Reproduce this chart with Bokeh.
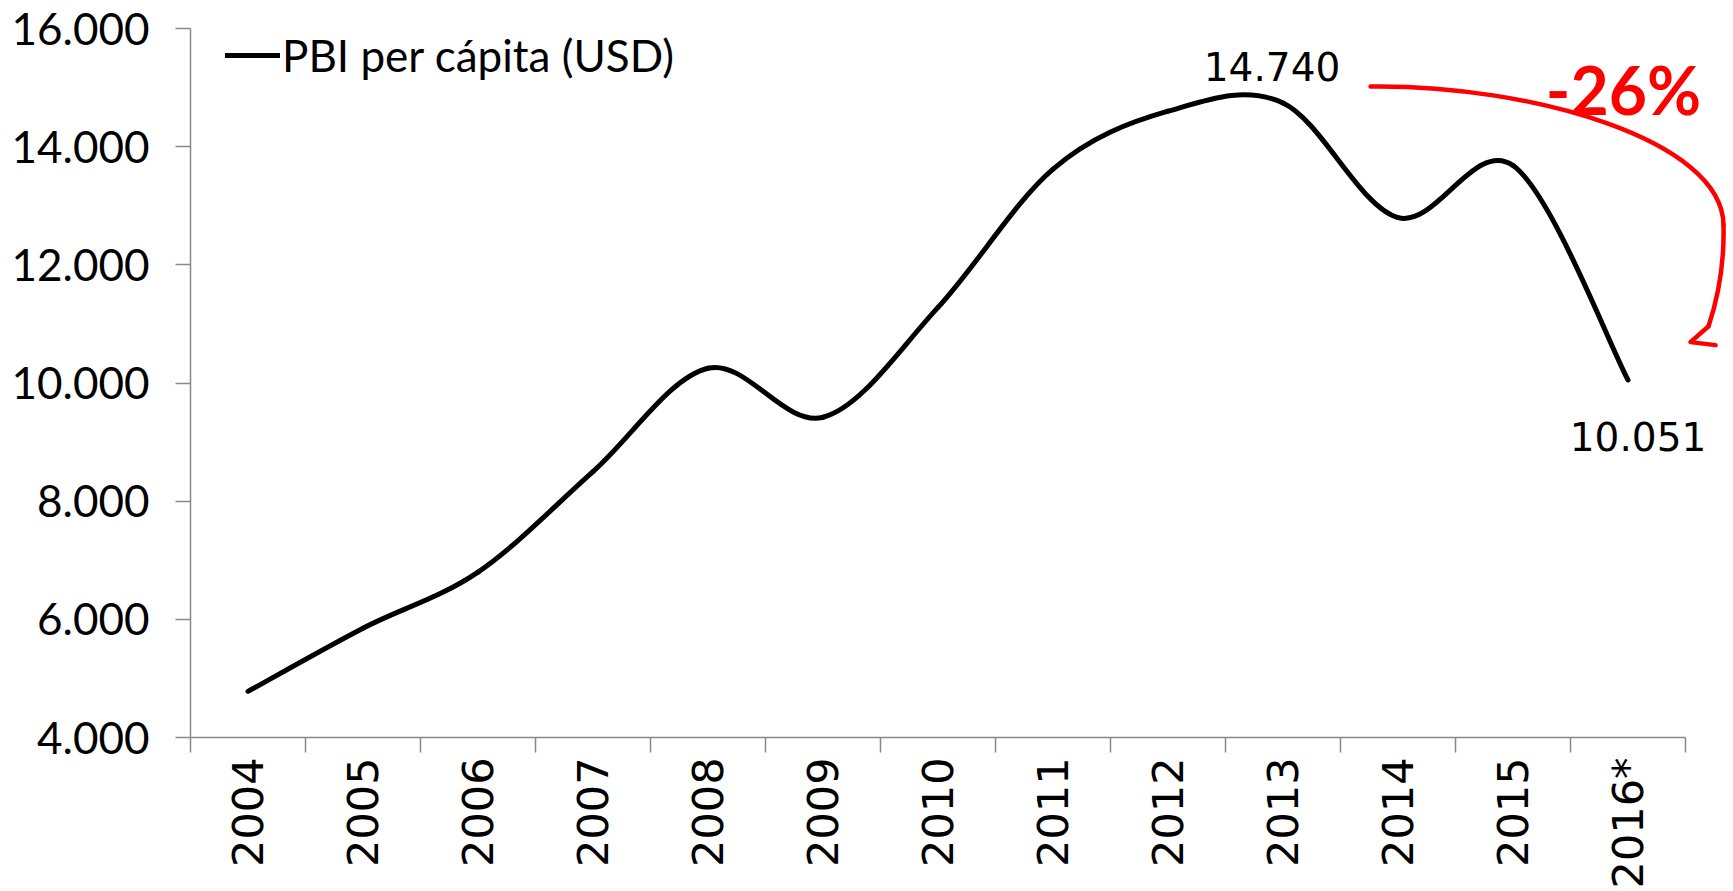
import numpy as np
from bokeh.plotting import figure
from bokeh.models import FixedTicker, Legend, LegendItem, Label, Range1d
from bokeh.embed import file_html
from bokeh.resources import INLINE

# ---- data ----
years = ["2004", "2005", "2006", "2007", "2008", "2009", "2010",
         "2011", "2012", "2013", "2014", "2015", "2016*"]
gdp_per_capita = [4780, 5850, 6800, 8500, 10250, 9420, 11280,
                  13620, 14600, 14740, 12800, 13680, 10051]
y_ticks = [4000, 6000, 8000, 10000, 12000, 14000, 16000]
y_tick_labels = ["4.000", "6.000", "8.000", "10.000", "12.000", "14.000", "16.000"]
series_name = "PBI per cápita (USD)"
peak_year, peak_text = "2013", "14.740"
last_year, last_text = "2016*", "10.051"
change_text = "-26%"

# red annotation path (data units: category index, USD)
arc_x0 = [9.761, 12.830]
arc_y0 = [15018, 12678]
arc_cx0 = [11.152, 12.839]
arc_cy0 = [15052, 12005]
arc_cx1 = [12.822, 12.778]
arc_cy1 = [14109, 11416]
arc_x1 = [12.830, 12.700]
arc_y1 = [12678, 10961]
head_x = [12.700, 12.543, 12.761]
head_y = [10961, 10692, 10641]
change_pos = (11.96, 14614)

AXIS_GRAY = "#898989"

n = len(years)
xs = np.arange(n, dtype=float)
ys = np.array(gdp_per_capita, dtype=float)

# Excel-style smoothed line: cubic Bezier segments through the data points
P = np.column_stack([xs, ys])
Pe = np.vstack([P[0], P, P[-1]])
c0 = P[:-1] + (Pe[2:n + 1] - Pe[0:n - 1]) / 6.0
c1 = P[1:] - (Pe[3:n + 2] - Pe[1:n]) / 6.0

p = figure(width=1733, height=891, output_backend="svg", toolbar_location=None,
           x_range=Range1d(-0.5, 12.917), y_range=Range1d(4000, 16000),
           min_border_left=190, min_border_right=0, min_border_top=28,
           min_border_bottom=151)
p.outline_line_color = None
p.xgrid.visible = False
p.ygrid.visible = False
p.background_fill_color = "white"

r = p.bezier(x0=P[:-1, 0], y0=P[:-1, 1], x1=P[1:, 0], y1=P[1:, 1],
             cx0=c0[:, 0], cy0=c0[:, 1], cx1=c1[:, 0], cy1=c1[:, 1],
             line_color="black", line_width=5, line_cap="round")

# red arrow annotation
p.bezier(x0=arc_x0, y0=arc_y0, x1=arc_x1, y1=arc_y1,
         cx0=arc_cx0, cy0=arc_cy0, cx1=arc_cx1, cy1=arc_cy1,
         line_color="#FF0000", line_width=4.5, line_cap="round")
p.line(head_x, head_y, line_color="#FF0000", line_width=4.5,
       line_cap="round", line_join="round")

# x axis: labels at category centres, ticks at boundaries
xa = p.xaxis[0]
xa.ticker = FixedTicker(ticks=list(range(n)),
                        minor_ticks=[i - 0.5 for i in range(n + 1)])
xa.major_label_overrides = {i: lab for i, lab in enumerate(years)}
xa.major_label_orientation = np.pi / 2
xa.bounds = (-0.5, n - 0.5)
xa.major_tick_in = 0
xa.major_tick_out = 0
xa.minor_tick_in = 0
xa.minor_tick_out = 15
xa.minor_tick_line_color = AXIS_GRAY
xa.minor_tick_line_width = 1.5
xa.axis_line_color = AXIS_GRAY
xa.axis_line_width = 1.5
xa.axis_label_standoff = 0
xa.major_label_standoff = 5
xa.major_label_text_font = "DejaVu Sans"
xa.major_label_text_font_size = "43px"
xa.major_label_text_color = "black"

ya = p.yaxis[0]
ya.ticker = FixedTicker(ticks=y_ticks, minor_ticks=[])
ya.major_label_overrides = {t: lab for t, lab in zip(y_ticks, y_tick_labels)}
ya.major_tick_in = 0
ya.major_tick_out = 15
ya.major_tick_line_color = AXIS_GRAY
ya.major_tick_line_width = 1.5
ya.minor_tick_out = 0
ya.minor_tick_in = 0
ya.axis_line_color = AXIS_GRAY
ya.axis_line_width = 1.5
ya.major_label_standoff = 26
ya.major_label_text_font = "Lato"
ya.major_label_text_font_size = "44px"
ya.major_label_text_color = "black"

# data labels
p.add_layout(Label(x=years.index(peak_year), y=gdp_per_capita[years.index(peak_year)],
                   text=peak_text, x_offset=-11, y_offset=36,
                   text_align="center", text_baseline="alphabetic",
                   text_font="DejaVu Sans", text_font_size="39px", text_color="black"))
p.add_layout(Label(x=years.index(last_year), y=gdp_per_capita[years.index(last_year)],
                   text=last_text, x_offset=10, y_offset=-42,
                   text_align="center", text_baseline="top",
                   text_font="DejaVu Sans", text_font_size="39px", text_color="black"))
p.add_layout(Label(x=change_pos[0], y=change_pos[1], text=change_text,
                   y_offset=21,
                   text_align="center", text_baseline="alphabetic",
                   text_font="Lato", text_font_style="bold",
                   text_font_size="66px", text_color="#FF0000"))

legend = Legend(items=[LegendItem(label=series_name, renderers=[r])],
                location=(35, 655), padding=0, margin=0, spacing=0,
                glyph_width=55, glyph_height=54, label_height=54,
                label_standoff=2, label_text_font="Lato",
                label_text_font_size="44px", label_text_color="black",
                background_fill_alpha=0, border_line_alpha=0)
p.add_layout(legend)

open("out.html", "w").write(file_html(p, INLINE))
